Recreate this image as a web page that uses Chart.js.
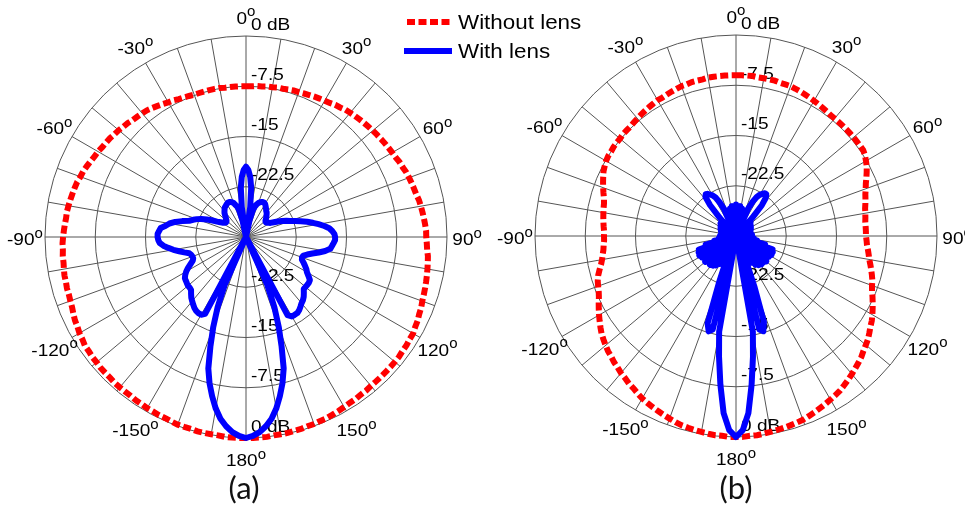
<!DOCTYPE html>
<html>
<head>
<meta charset="utf-8">
<script src="https://cdn.jsdelivr.net/npm/chart.js@4.4.1/dist/chart.umd.min.js"></script>
<style>
    body { margin: 0; background: #fff; width: 965px; height: 509px; overflow: hidden; position: relative; }
    .panel { position: absolute; top: 0; }
    .cap { position: absolute; top: 468px; width: 80px; text-align: center; font-family: Lato, "Open Sans", sans-serif; font-size: 31px; color: #111; }
</style>
</head>
<body>
<div class="panel" style="left:0"><canvas id="chart-a" width="600" height="509"></canvas></div>
<div class="panel" style="left:490px"><canvas id="chart-b" width="475" height="509"></canvas></div>
<div class="cap" style="left:204px">(a)</div>
<div class="cap" style="left:696px">(b)</div>
<script>
// angle axis: every 2 degrees, clockwise from the top
const angles = Array.from({ length: 180 }, (_, i) => i * 2);
const spokeAngles = [0, 30, 60, 90, 120, 150, 180, 210, 240, 270, 300, 330];
const spokeLabels = ['0', '30', '60', '90', '120', '150', '180', '-150', '-120', '-90', '-60', '-30'];
const radialTicks = [-22.5, -15, -7.5, 0];
const radialLabels = ['-22.5', '-15', '-7.5', '0 dB'];

// (a) values in dB, 0..180 deg then -178..-2 deg
const withoutLensA_right = [
    -7.5, -7.5, -7.4, -7.4, -7.3, -7.3, -7.2, -7.2, -7.1, -7.0,
    -7.0, -6.9, -6.8, -6.7, -6.6, -6.5, -6.4, -6.2, -6.1, -5.9,
    -5.8, -5.7, -5.6, -5.5, -5.4, -5.3, -5.2, -5.1, -5.0, -4.9,
    -4.8, -4.7, -4.5, -4.4, -4.2, -4.1, -4.0, -3.9, -3.8, -3.6,
    -3.5, -3.4, -3.3, -3.2, -3.1, -3.1, -3.0, -2.9, -2.7, -2.6,
    -2.5, -2.4, -2.3, -2.2, -2.1, -2.0, -1.8, -1.7, -1.5, -1.4,
    -1.2, -1.2, -1.1, -1.1, -1.0, -1.0, -1.0, -1.0, -1.0, -1.0,
    -1.0, -0.9, -0.9, -0.8, -0.8, -0.7, -0.6, -0.5, -0.4, -0.4,
    -0.3, -0.3, -0.2, -0.2, -0.1, -0.1, -0.1, 0, 0, 0,
    0
];
const withoutLensA_left = [
    0, 0, 0, -0.1, -0.1, -0.1, -0.1, -0.2, -0.2, -0.2,
    -0.3, -0.4, -0.4, -0.5, -0.5, -0.6, -0.6, -0.7, -0.7, -0.7,
    -0.7, -0.8, -0.8, -0.8, -0.9, -0.9, -1.0, -1.0, -1.2, -1.3,
    -1.5, -1.6, -1.8, -2.0, -2.1, -2.2, -2.2, -2.3, -2.3, -2.4,
    -2.5, -2.5, -2.6, -2.6, -2.7, -2.8, -2.9, -3.0, -3.0, -3.1,
    -3.2, -3.3, -3.4, -3.5, -3.7, -3.8, -4.0, -4.2, -4.4, -4.5,
    -4.7, -4.8, -4.9, -5.1, -5.2, -5.4, -5.5, -5.7, -5.8, -5.9,
    -6.0, -6.2, -6.4, -6.6, -6.8, -6.9, -7.1, -7.2, -7.3, -7.4,
    -7.4, -7.4, -7.4, -7.4, -7.4, -7.5, -7.5, -7.5, -7.5
];
const withLensA_right = [
    -19.5, -20.0, -21.0, -22.6, -25.5, -30, -27.5, -26.0, -25.3, -24.9,
    -24.6, -24.4, -24.3, -24.2, -24.2, -24.3, -24.5, -24.7, -24.9, -25.1,
    -25.2, -25.4, -25.6, -25.8, -26.0, -26.2, -26.3, -26.3, -26.2, -26.0,
    -25.8, -25.3, -24.7, -24.1, -23.5, -23.0, -22.3, -21.5, -20.6, -19.8,
    -19.0, -18.2, -17.5, -17.1, -16.8, -16.7, -16.7, -16.9, -17.1, -17.3,
    -18.0, -18.9, -19.8, -20.5, -21.0, -21.1, -21.0, -20.6, -20.2, -19.8,
    -19.5, -19.0, -18.5, -18.4, -18.4, -18.4, -18.4, -18.0, -17.6, -17.3,
    -17.1, -16.8, -16.5, -16.3, -16.3, -16.3, -16.8, -30, -22.2, -18.7,
    -15.7, -12.8, -9.6, -7.5, -5.7, -4.0, -2.6, -1.6, -0.8, -0.3,
    0
];
const withLensA_left = [
    -0.3, -0.8, -1.6, -2.6, -4.0, -5.7, -7.5, -9.6, -12.8, -15.7,
    -18.7, -22.2, -30, -17.0, -16.6, -16.6, -16.7, -16.9, -17.2, -17.5,
    -17.8, -18.2, -18.6, -18.7, -18.7, -18.8, -18.9, -19.0, -19.3, -19.7,
    -20.2, -20.8, -21.3, -21.5, -21.5, -21.4, -21.2, -20.5, -19.8, -19.0,
    -18.3, -17.6, -17.1, -16.9, -16.8, -16.8, -17.0, -17.2, -17.9, -18.4,
    -19.2, -20.2, -21.2, -21.7, -22.2, -22.8, -23.6, -24.3, -25.1, -25.6,
    -26.0, -26.2, -26.3, -26.3, -26.2, -26.0, -25.8, -25.5, -25.2, -25.0,
    -24.8, -24.6, -24.5, -24.4, -24.3, -24.2, -24.2, -24.3, -24.4, -24.6,
    -25.0, -25.3, -26.0, -27.5, -30, -25.5, -22.6, -21.0, -20.0
];

// (b) values in dB, same order
const withoutLensB_right = [
    -6.0, -6.0, -6.0, -6.0, -6.1, -6.1, -6.1, -6.1, -6.2, -6.2,
    -6.2, -6.3, -6.4, -6.5, -6.6, -6.7, -6.8, -6.9, -7.0, -7.1,
    -7.1, -7.1, -7.1, -7.1, -7.1, -7.1, -7.1, -7.1, -7.1, -7.3,
    -7.6, -7.9, -8.3, -8.7, -9.1, -9.4, -9.7, -9.9, -10.1, -10.3,
    -10.4, -10.5, -10.6, -10.6, -10.6, -10.6, -10.5, -10.4, -10.2, -10.0,
    -9.8, -9.5, -9.2, -8.9, -8.6, -8.4, -8.1, -7.7, -7.3, -6.9,
    -6.5, -6.1, -5.8, -5.4, -5.0, -4.7, -4.4, -4.0, -3.7, -3.4,
    -3.1, -2.8, -2.5, -2.2, -2.0, -1.8, -1.6, -1.4, -1.2, -1.0,
    -0.8, -0.7, -0.6, -0.5, -0.4, -0.3, -0.2, -0.1, -0.1, 0,
    0
];
const withoutLensB_left = [
    0, -0.1, -0.1, -0.2, -0.3, -0.4, -0.5, -0.6, -0.8, -1.0,
    -1.2, -1.4, -1.6, -1.8, -2.0, -2.3, -2.6, -2.8, -3.1, -3.3,
    -3.6, -3.8, -4.1, -4.3, -4.6, -4.9, -5.2, -5.6, -6.0, -6.4,
    -6.8, -7.2, -7.6, -7.9, -8.1, -8.3, -8.6, -9.0, -9.4, -9.7,
    -9.9, -10.1, -10.2, -10.3, -10.3, -10.3, -10.2, -10.1, -10.0, -9.9,
    -9.8, -9.7, -9.5, -9.2, -8.9, -8.6, -8.3, -8.0, -7.8, -7.6,
    -7.5, -7.5, -7.4, -7.4, -7.4, -7.3, -7.3, -7.3, -7.2, -7.1,
    -7.0, -6.9, -6.8, -6.7, -6.6, -6.6, -6.5, -6.4, -6.3, -6.2,
    -6.2, -6.1, -6.1, -6.1, -6.0, -6.0, -6.0, -6.0, -6.0
];
const withLensB_right = [
    -25.3, -30, -25.8, -30, -25.5, -30, -25.8, -30, -26.0, -30,
    -26.3, -30, -25.5, -24.3, -23.4, -22.9, -22.6, -22.3, -22.3, -22.8,
    -24.0, -26.5, -30, -27.0, -30, -27.2, -30, -27.3, -30, -27.4,
    -30, -27.5, -30, -27.6, -30, -27.7, -30, -27.8, -30, -27.8,
    -30, -27.7, -30, -27.6, -30, -27.6, -30, -27.6, -30, -27.3,
    -30, -26.8, -30, -25.5, -30, -24.2, -30, -24.0, -30, -24.0,
    -30, -24.2, -30, -24.4, -30, -24.1, -30, -24.3, -30, -24.3,
    -30, -24.5, -30, -24.8, -30, -25.4, -30, -26.5, -30, -26.0,
    -22.0, -16.5, -15.2, -15.6, -30, -15.5, -11.8, -7.7, -3.5, -1.0,
    0
];
const withLensB_left = [
    -1.0, -3.5, -7.7, -11.8, -15.5, -30, -15.6, -15.2, -16.3, -22.5,
    -26.0, -30, -26.3, -30, -25.2, -30, -24.7, -30, -24.4, -30,
    -24.2, -30, -24.4, -30, -24.0, -30, -24.2, -30, -24.0, -30,
    -23.8, -30, -23.9, -30, -24.1, -30, -25.3, -30, -26.7, -30,
    -27.4, -30, -27.6, -30, -27.6, -30, -27.7, -30, -27.8, -30,
    -27.8, -30, -27.7, -30, -27.6, -30, -27.5, -30, -27.4, -30,
    -27.3, -30, -27.2, -30, -27.0, -30, -27.0, -30, -26.5, -24.0,
    -22.6, -22.3, -22.4, -22.7, -23.0, -23.5, -24.4, -25.5, -30, -26.3,
    -30, -26.0, -30, -25.8, -30, -25.5, -30, -25.8, -30
];

const SX = 1.12;
const FONT = '"Liberation Sans", Arial, sans-serif';

function wideText(ctx, text, x, y, size) {
    ctx.save();
    ctx.font = size + 'px ' + FONT;
    ctx.translate(x, y);
    ctx.scale(SX, 1);
    ctx.fillText(text, 0, 0);
    ctx.restore();
}

// angle labels, radial tick labels
const polarText = {
    id: 'polarText',
    beforeDatasetsDraw(chart) {
        const r = chart.scales.r;
        const ctx = chart.ctx;
        ctx.save();
        ctx.fillStyle = '#000';
        ctx.textAlign = 'left';
        ctx.textBaseline = 'middle';
        radialTicks.forEach((v, k) => {
            const d = r.getDistanceFromCenterForValue(v);
            wideText(ctx, radialLabels[k], r.xCenter + 5, r.yCenter - d - 11, 17);
            wideText(ctx, radialLabels[k], r.xCenter + 5, r.yCenter + d - 11, 17);
        });
        ctx.textBaseline = 'alphabetic';
        spokeAngles.forEach((a, k) => {
            const p = r.getPointPosition(a / 2, r.drawingArea * 1.1);
            ctx.font = '17px ' + FONT;
            const wn = ctx.measureText(spokeLabels[k]).width * SX;
            ctx.font = '15px ' + FONT;
            const wo = ctx.measureText('o').width;
            const left = p.x - (wn + wo) / 2;
            wideText(ctx, spokeLabels[k], left, p.y + 8, 17);
            ctx.font = '15px ' + FONT;
            ctx.fillText('o', left + wn, p.y + 0.5);
        });
        ctx.restore();
    }
};

const lensLegend = {
    id: 'lensLegend',
    afterDraw(chart) {
        const ctx = chart.ctx;
        const rows = [22, 51];
        ctx.save();
        chart.data.datasets.forEach((ds, i) => {
            const y = rows[i];
            ctx.beginPath();
            ctx.strokeStyle = ds.borderColor;
            ctx.lineWidth = ds.borderWidth;
            ctx.setLineDash(ds.borderDash || []);
            ctx.moveTo(i === 0 ? 407 : 404, y);
            ctx.lineTo(452, y);
            ctx.stroke();
            ctx.fillStyle = '#000';
            ctx.textBaseline = 'middle';
            ctx.textAlign = 'left';
            wideText(ctx, ds.label, 458, y + 1, 20);
        });
        ctx.restore();
    }
};

function makePolar(id, without, withLens, padding, extra) {
    new Chart(document.getElementById(id), {
        type: 'radar',
        data: {
            labels: angles,
            datasets: [
                {
                    label: 'Without lens',
                    data: without,
                    borderColor: '#ff0000',
                    borderWidth: 6,
                    borderDash: [8, 3.5],
                    pointRadius: 0,
                    fill: false,
                    clip: false,
                    order: 1
                },
                {
                    label: 'With lens',
                    data: withLens,
                    borderColor: '#0000ff',
                    borderWidth: 6,
                    borderJoinStyle: 'round',
                    pointRadius: 0,
                    fill: false,
                    clip: false,
                    order: 0
                }
            ]
        },
        options: {
            responsive: false,
            animation: false,
            devicePixelRatio: 1,
            layout: { padding: padding },
            plugins: { legend: { display: false }, tooltip: { enabled: false } },
            elements: { line: { tension: 0 } },
            scales: {
                r: {
                    min: -30,
                    max: 0,
                    ticks: { display: false, stepSize: 7.5 },
                    grid: { circular: true, color: '#555', lineWidth: 1 },
                    angleLines: {
                        display: true,
                        color: '#555',
                        lineWidth: ctx => (ctx.index % 5 === 0 ? 1 : 0)
                    },
                    pointLabels: { display: false }
                }
            }
        },
        plugins: [polarText].concat(extra)
    });
}

makePolar('chart-a', withoutLensA_right.concat(withoutLensA_left), withLensA_right.concat(withLensA_left),
    { left: 45, top: 36, right: 153, bottom: 71 }, [lensLegend]);
makePolar('chart-b', withoutLensB_right.concat(withoutLensB_left), withLensB_right.concat(withLensB_left),
    { left: 45, top: 35, right: 28, bottom: 72 }, []);
</script>
</body>
</html>
